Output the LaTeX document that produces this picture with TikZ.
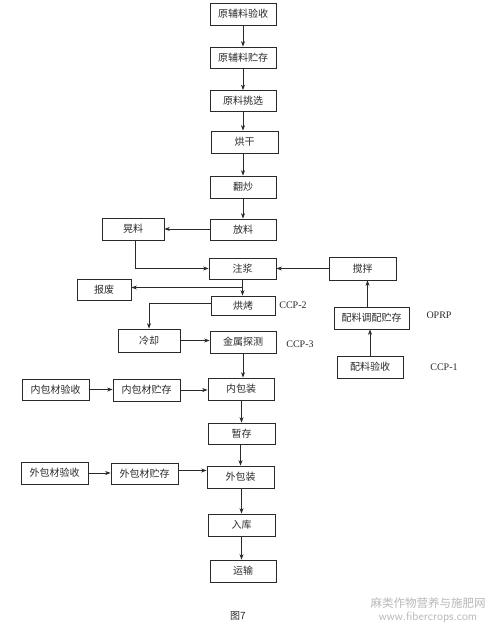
\documentclass[tikz,border=0pt]{standalone}
\usepackage{fontspec}
\setmainfont{Liberation Serif}
\newfontfamily\cjk{Noto Sans CJK SC}
\usetikzlibrary{arrows.meta,calc}
\definecolor{ink}{HTML}{2A2A2A}
\tikzset{
  box/.style={draw=ink, line width=0.8pt, minimum width=66pt, minimum height=22pt, inner sep=0pt, font=\cjk\fontsize{10}{12}\selectfont, text=ink},
  arr/.style={draw=ink, line width=0.65pt, -{Stealth[length=5.5pt,width=4pt]}},
  lab/.style={font=\fontsize{10}{12}\selectfont, text=ink},
  wm/.style={text=black!28, inner sep=0pt}
}
\begin{document}
\begin{tikzpicture}[x=1pt,y=-1pt]
\useasboundingbox[fill=white] (0,0) rectangle (494,628);
% main column
\node[box] (b1) at (243,14) {原辅料验收};
\node[box, minimum height=21pt] (b2) at (243,57.5) {原辅料贮存};
\node[box, minimum height=21pt] (b3) at (243,101) {原料挑选};
\node[box, minimum width=67pt] (b4) at (244.5,142) {烘干};
\node[box] (b5) at (243,187) {翻炒};
\node[box, minimum height=21pt] (b6) at (243,229.5) {放料};
\node[box, minimum width=62pt] (hl) at (133,229) {晃料};
\node[box, minimum width=67pt, minimum height=21pt] (zj) at (242.5,268.5) {注浆};
\node[box, minimum width=67pt, minimum height=23pt] (jb) at (362.5,268.5) {搅拌};
\node[box, minimum width=54pt, minimum height=21pt] (bf) at (104,289.5) {报废};
\node[box, minimum width=64pt, minimum height=19pt] (hk) at (243,305.5) {烘烤};
\node[box, minimum width=62pt, minimum height=23pt] (lq) at (149,340.5) {冷却};
\node[box] (js) at (243,342) {金属探测};
\node[box, minimum width=75pt] (pt) at (371.5,318) {配料调配贮存};
\node[box] (py) at (370,367) {配料验收};
\node[box] (nb) at (241,389) {内包装};
\node[box, minimum width=67pt, minimum height=21pt] (nbj) at (55.5,389.5) {内包材验收};
\node[box, minimum width=67pt] (nbc) at (146.5,390) {内包材贮存};
\node[box, minimum width=67pt, minimum height=21pt] (zc) at (241.5,433.5) {暂存};
\node[box, minimum width=67pt] (wb) at (240.5,477) {外包装};
\node[box, minimum width=67pt] (wbj) at (54.5,473) {外包材验收};
\node[box, minimum width=67pt, minimum height=21pt] (wbc) at (144.5,473.5) {外包材贮存};
\node[box, minimum width=67pt] (rk) at (241.5,525) {入库};
\node[box] (ys) at (243,571) {运输};
% labels
\node[lab] (c2) at (293,305) {CCP-2};
\node[lab] (c3) at (300,344) {CCP-3};
\node[lab] (op) at (439,315) {OPRP};
\node[lab] (c1) at (444,367) {CCP-1};
\node[font=\cjk\fontsize{10}{12}\selectfont, text=ink] (cap) at (238,616) {图7};
\node[wm, font=\cjk\fontsize{11.5}{12}\selectfont] (wm1) at (428,603) {麻类作物营养与施肥网};
\node[wm, font=\sffamily\fontsize{12}{12}\selectfont] (wm2) at (428,617) {www.fibercrops.com};
% connectors
\draw[arr] (b1.south) -- (b2.north);
\draw[arr] (b2.south) -- (b3.north);
\draw[arr] (b3.south) -- (b3.south |- b4.north);
\draw[arr] (b4.south -| b5.north) -- (b5.north);
\draw[arr] (b5.south) -- (b6.north);
\draw[arr] (b6.west |- hl.east) -- (hl.east);
\draw[arr] ([xshift=2pt]hl.south) |- (zj.west);
\draw[arr] (jb.west) -- (zj.east);
\draw[arr] (zj.south) -- (zj.south |- hk.north);
\coordinate (br) at ($(zj.south)!0.5!(zj.south |- hk.north)$);
\draw[arr] (br) -- (br -| bf.east);
\draw[arr] ([yshift=2pt]hk.west) -| (lq.north);
\draw[arr] (lq.east) -- (lq.east -| js.west);
\draw[arr] (js.south) -- (js.south |- nb.north);
\draw[arr] (nbj.east) -- (nbj.east -| nbc.west);
\draw[arr] (nbc.east) -- (nbc.east -| nb.west);
\draw[arr] (nb.south -| zc.north) -- (zc.north);
\draw[arr] (zc.south -| wb.north) -- (wb.north);
\draw[arr] (wbj.east) -- (wbj.east -| wbc.west);
\draw[arr] ([yshift=3pt]wbc.east) -- ([yshift=3pt]wbc.east -| wb.west);
\draw[arr] (wb.south -| rk.north) -- (rk.north);
\draw[arr] (rk.south) -- (rk.south |- ys.north);
\draw[arr] (py.north) -- (py.north |- pt.south);
\draw[arr] ([xshift=-4pt]pt.north) -- ([xshift=-4pt]pt.north |- jb.south);
\end{tikzpicture}
\end{document}
